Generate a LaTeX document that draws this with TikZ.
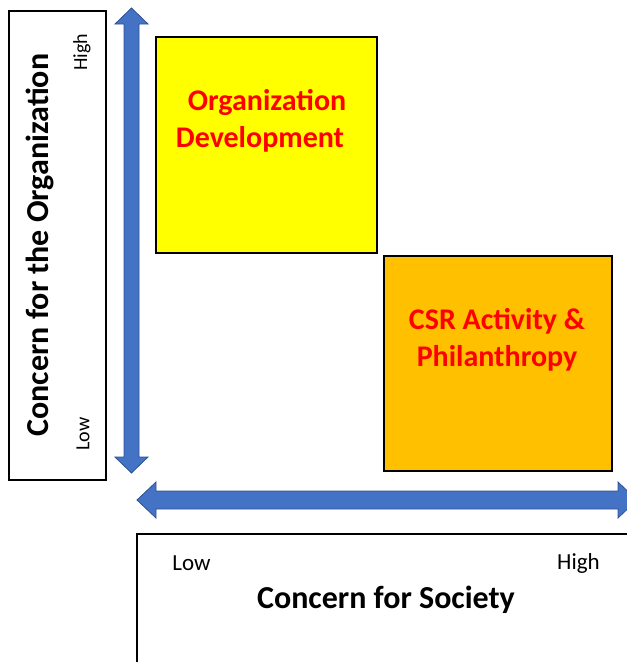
\documentclass[tikz,border=0pt]{standalone}
\usepackage{fontspec}
\setmainfont{Carlito}
\definecolor{arrowfill}{HTML}{4472C4}
\definecolor{arrowedge}{HTML}{2F528F}
\definecolor{quadyellow}{HTML}{FFFF00}
\definecolor{quadorange}{HTML}{FFC000}
\definecolor{quadtext}{HTML}{FF0000}
\tikzset{
  axisarrow/.style={fill=arrowfill, draw=arrowedge, line width=0.8pt, line join=miter},
  framebox/.style={draw=black, line width=1.5pt},
  quadbox/.style={draw=black, line width=1.5pt},
  quadlabel/.style={text=quadtext, font=\fontsize{30}{37}\selectfont\bfseries, align=center},
  axistitle/.style={font=\fontsize{32}{36}\selectfont\bfseries},
  levellabel/.style={font=\fontsize{23}{26}\selectfont},
  sidelevel/.style={font=\fontsize{20}{24}\selectfont},
}
\begin{document}
\begin{tikzpicture}[x=1pt, y=-1pt]
\useasboundingbox (0,0) rectangle (627,662);
\clip (0,0) rectangle (627,662);

% frame holding the vertical axis title
\draw[framebox] (9,11) rectangle (106,480);
\node[axistitle, rotate=90] (ytitle) at (40,245) {Concern for the Organization};
\node[sidelevel, rotate=90] (yhigh) at (82,52) {High};
\node[sidelevel, rotate=90] (ylow) at (83,434) {Low};

% frame holding the horizontal axis title
\draw[framebox] (137,534) rectangle (660,700);
\node[levellabel] (xlow) at (191.5,563) {Low};
\node[levellabel] (xhigh) at (578.5,563) {High};
\node[axistitle] (xtitle) at (386,600) {Concern for Society};

% vertical double-headed axis arrow
\draw[axisarrow] (131.5,8) -- (148,24) -- (139,24) -- (139,457) -- (148,457)
  -- (131.5,473) -- (115,457) -- (124,457) -- (124,24) -- (115,24) -- cycle;

% horizontal double-headed axis arrow
\draw[axisarrow] (137,500) -- (156,482) -- (156,491) -- (618,491) -- (618,482)
  -- (637,500) -- (618,518) -- (618,509) -- (156,509) -- (156,518) -- cycle;

% quadrants
\node[quadbox, fill=quadyellow, minimum width=221pt, minimum height=216pt, inner sep=0pt]
  (orgdev) at (266.5,145) {};
\node[quadlabel] (orgdevtext) at (267,121) {Organization\\Development\hspace*{14pt}};

\node[quadbox, fill=quadorange, minimum width=228pt, minimum height=215pt, inner sep=0pt]
  (csr) at (498,363.5) {};
\node[quadlabel] (csrtext) at (497,340) {CSR Activity \&\\Philanthropy};
\end{tikzpicture}
\end{document}
